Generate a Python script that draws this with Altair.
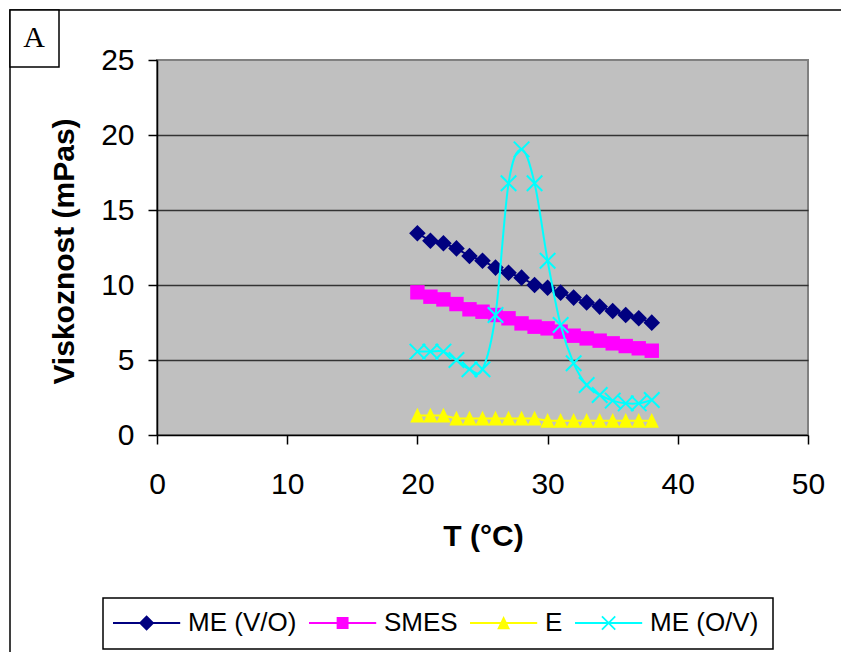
import altair as alt
import pandas as pd

# ---------------- data ----------------
T = [20, 21, 22, 23, 24, 25, 26, 27, 28, 29, 30, 31, 32, 33, 34, 35, 36, 37, 38]
me_vo = [13.45, 12.95, 12.78, 12.44, 11.93, 11.62, 11.16, 10.82, 10.49, 10.0,
         9.82, 9.49, 9.16, 8.84, 8.56, 8.27, 8.0, 7.78, 7.49]
smes = [9.51, 9.22, 9.04, 8.73, 8.38, 8.22, 8.0, 7.78, 7.44, 7.22,
        7.11, 6.89, 6.62, 6.44, 6.29, 6.11, 5.93, 5.78, 5.62]
e_vals = [1.3, 1.3, 1.3, 1.1, 1.1, 1.1, 1.1, 1.1, 1.1, 1.1,
          0.95, 0.95, 0.95, 0.95, 0.95, 0.95, 0.95, 0.95, 0.95]
me_ov = [5.56, 5.56, 5.56, 5.0, 4.38, 4.38, 8.0, 16.78, 19.04, 16.78,
         11.62, 7.33, 4.78, 3.33, 2.67, 2.29, 2.11, 2.11, 2.33]
series = ["ME (V/O)", "SMES", "E", "ME (O/V)"]
x_ticks = [0, 10, 20, 30, 40, 50]
y_ticks = [0, 5, 10, 15, 20, 25]

# ---------------- styles ----------------
colors = ["#000080", "#FF00FF", "#FFFF00", "#00FFFF"]
FONT = "Liberation Sans"


def poly(points, dx=0.0, k=1.0):
    return "M" + "L".join(f"{x * k + dx:.3f},{y * k:.3f}" for x, y in points) + "Z"


DIAMOND = [(0, -1), (1, 0), (0, 1), (-1, 0)]
SQUARE = [(-1, -1), (1, -1), (1, 1), (-1, 1)]
TRIANGLE = [(0, -1.0), (0.92, 0.9), (-0.92, 0.9)]
XBAR1 = [(-0.908, -1.092), (1.092, 0.908), (0.908, 1.092), (-1.092, -0.908)]
XBAR2 = [(-1.092, 0.908), (0.908, -1.092), (1.092, -0.908), (-0.908, 1.092)]

plot_shapes = [
    poly(DIAMOND, k=1.07),
    poly(SQUARE, k=0.93),
    poly(TRIANGLE),
    poly(XBAR1) + poly(XBAR2),
]

LINE = [(-1, -0.14), (8.6, -0.14), (8.6, 0.14), (-1, 0.14)]
CX = 3.8
legend_shapes = [
    poly(LINE) + poly(DIAMOND, dx=CX, k=1.1),
    poly(LINE) + poly(SQUARE, dx=CX, k=0.85),
    poly(LINE) + poly(TRIANGLE, dx=CX, k=1.0),
    poly(LINE) + poly(XBAR1, dx=CX, k=0.95) + poly(XBAR2, dx=CX, k=0.95),
]

rows = []
for name, vals in zip(series, [me_vo, smes, e_vals, me_ov]):
    for t, v in zip(T, vals):
        rows.append({"T": t, "v": v, "series": name})
df = pd.DataFrame(rows)

xscale = alt.Scale(domain=[0, 50], nice=False, zero=False)
yscale = alt.Scale(domain=[0, 25], nice=False, zero=False)
cscale = alt.Scale(domain=series, range=colors)

x_axis = alt.Axis(
    values=x_ticks, grid=False, title="T (°C)",
    labelFontSize=30, labelFont=FONT, labelColor="black",
    labelBaseline="alphabetic", labelPadding=49, labelFlush=False, labelOverlap=False,
    tickSize=9, tickColor="black", tickWidth=1.5,
    domainColor="black", domainWidth=1.5,
    titleFont=FONT, titleFontSize=30, titleFontWeight="bold", titleColor="black",
    titleX=326, titleY=110, titleBaseline="alphabetic",
)
y_axis = alt.Axis(
    values=y_ticks, title="Viskoznost (mPas)",
    grid=True,
    gridColor={"condition": {"test": "datum.value === 25 || datum.value === 0",
                             "value": "transparent"},
               "value": "#333333"},
    gridWidth=1.5,
    labelFontSize=30, labelFont=FONT, labelColor="black",
    labelPadding=14, labelOverlap=False,
    tickSize=9, tickColor="black", tickWidth=1.5,
    domainColor="black", domainWidth=1.5,
    titleFont=FONT, titleFontSize=30, titleFontWeight="bold", titleColor="black",
    titleX=-84, titleY=191, titleBaseline="alphabetic", titleAngle=270,
)

X = alt.X("T:Q", scale=xscale, axis=x_axis)
Y = alt.Y("v:Q", scale=yscale, axis=y_axis)

base = alt.Chart(df)
PT_SIZE = 240

lines_linear = base.transform_filter(
    alt.FieldOneOfPredicate(field="series", oneOf=series[:3])
).mark_line(strokeWidth=2).encode(
    x=X, y=Y,
    color=alt.Color("series:N", scale=cscale, legend=None),
    detail="series:N",
)

points_main = base.transform_filter(
    alt.FieldOneOfPredicate(field="series", oneOf=series[:3])
).mark_point(filled=True, size=PT_SIZE, opacity=1).encode(
    x=X, y=Y,
    color=alt.Color("series:N", scale=cscale, legend=None),
    shape=alt.Shape("series:N", scale=alt.Scale(domain=series, range=plot_shapes), legend=None),
)

line_ov = base.transform_filter(
    alt.FieldEqualPredicate(field="series", equal=series[3])
).mark_line(strokeWidth=2, interpolate="cardinal").encode(
    x=X, y=Y,
    color=alt.Color("series:N", scale=cscale, legend=None),
)

points_ov = base.transform_filter(
    alt.FieldEqualPredicate(field="series", equal=series[3])
).mark_point(filled=True, size=PT_SIZE, opacity=1).encode(
    x=X, y=Y,
    color=alt.Color("series:N", scale=cscale, legend=None),
    shape=alt.Shape("series:N", scale=alt.Scale(domain=series, range=plot_shapes), legend=None),
)

leg_props = dict(
    title=None, orient="none", legendX=-60, legendY=540, direction="horizontal",
    symbolSize=196, symbolOpacity=1, symbolStrokeWidth=0,
    labelFont=FONT, labelFontSize=26, labelColor="black", labelLimit=0,
    labelOffset=55, columnPadding=6, padding=10,
    strokeColor="transparent", fillColor="transparent",
)
legend_layer = base.mark_point(filled=True, size=196, opacity=0).encode(
    x=X, y=Y,
    color=alt.Color("series:N", scale=cscale, legend=alt.Legend(**leg_props)),
    shape=alt.Shape("series:N", scale=alt.Scale(domain=series, range=legend_shapes),
                    legend=alt.Legend(**leg_props)),
)

one = pd.DataFrame({"k": [0]})
outer_frame = alt.Chart(one).mark_rect(fillOpacity=0, stroke="black", strokeWidth=1.5).encode(
    x=alt.value(-147), x2=alt.value(900), y=alt.value(-50), y2=alt.value(800)
)
a_box = alt.Chart(one).mark_rect(fill="white", stroke="black", strokeWidth=1.5).encode(
    x=alt.value(-147), x2=alt.value(-98), y=alt.value(-50), y2=alt.value(7)
)
a_text = alt.Chart(one).mark_text(
    text="A", font="Liberation Serif", fontSize=30, align="center", baseline="alphabetic",
    color="black"
).encode(x=alt.value(-123), y=alt.value(-13))
legend_box = alt.Chart(one).mark_rect(fill="white", stroke="black", strokeWidth=1.5).encode(
    x=alt.value(-54), x2=alt.value(616), y=alt.value(538), y2=alt.value(589)
)

chart = alt.layer(
    outer_frame, a_box, a_text, legend_box,
    lines_linear, points_main, line_ov, points_ov, legend_layer,
).resolve_scale(
    color="independent", shape="independent"
).properties(
    width=651, height=375,
    autosize=alt.AutoSizeParams(type="none"),
    padding={"left": 157, "top": 60, "right": 33, "bottom": 217},
    background="white",
).configure_view(
    fill="#C0C0C0", stroke="#808080", strokeWidth=2
)

chart.save("out.html", embed_options={"renderer": "svg", "actions": False})
